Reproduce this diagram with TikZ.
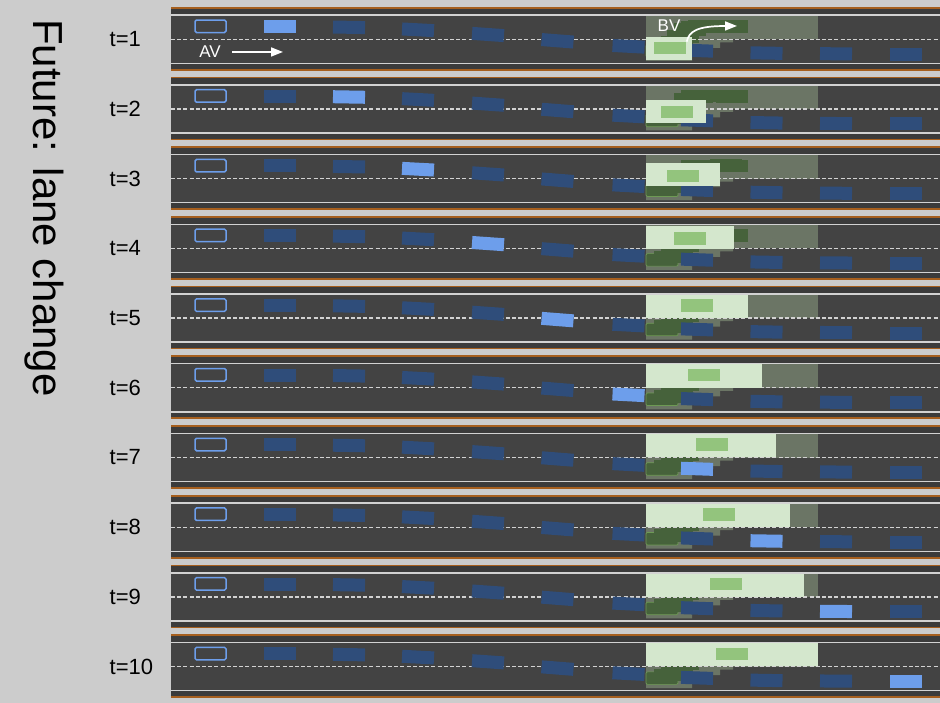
\documentclass[tikz,border=0pt]{standalone}
\usepackage{fontspec}
\setmainfont{Liberation Sans}
\usetikzlibrary{arrows.meta}
\definecolor{bg}{HTML}{CCCCCC}
\definecolor{road}{HTML}{434343}
\definecolor{edgeband}{HTML}{3B3B3B}
\definecolor{curb}{HTML}{A65F1E}
\definecolor{lineW}{HTML}{D2D2D2}
\definecolor{carB}{HTML}{2F4D7A}
\definecolor{carL}{HTML}{6D9EEB}
\definecolor{occ}{HTML}{6B7565}
\definecolor{bvD}{HTML}{46623B}
\definecolor{bvE}{HTML}{6E9A55}
\definecolor{pale}{HTML}{D4E7CD}
\definecolor{bvM}{HTML}{93C47D}
\begin{document}
\begin{tikzpicture}[x=1pt,y=-1pt,
  car/.style={fill=carB, minimum width=32pt, minimum height=13pt, inner sep=0pt, draw=none},
  hicar/.style={car, fill=carL},
  ego/.style={draw=carL, line width=1.5pt, rounded corners=1.5pt, minimum width=31pt, minimum height=12.5pt, inner sep=0pt},
  bvpos/.style={fill=bvD, minimum width=32pt, minimum height=12.5pt, inner sep=0pt},
  bvfirst/.style={bvpos, draw=bvE, line width=0.7pt, rounded corners=1.2pt},
  bvnow/.style={fill=bvM, minimum width=32pt, minimum height=12.5pt, inner sep=0pt},
  midline/.style={draw=lineW, line width=1.3pt, dash pattern=on 4pt off 2.2pt},
  tlabel/.style={anchor=west, inner sep=0pt, font=\fontsize{22}{26}\selectfont},
  wlabel/.style={text=white, inner sep=0pt, font=\fontsize{17}{20}\selectfont},
  warrow/.style={draw=white, line width=1.7pt, -{Triangle[length=12pt,width=9pt]}}
]
\fill[bg] (0,0) rectangle (940,703);
\useasboundingbox (0,0) rectangle (940,703);

\node[rotate=-90, anchor=base, inner sep=0pt, font=\fontsize{42}{50}\selectfont] (title) at (34,208) {Future: lane change};

\def\carlist{1/280/19.3/0, 2/349/20/-1, 3/418/22.5/-3, 4/488/27.2/-4, 5/557.5/33.5/-4.5, 6/628.5/39/-3, 7/697/43.3/-2, 8/766.5/45.8/-1, 9/836/46.5/-0.5, 10/906/47/0}
\def\bvlist{1/669.5/40.5, 2/676.5/35, 3/683/29.2, 4/690/22.3, 5/697/19.6, 6/704/19.2, 7/711.5/19.2, 8/718.5/19.2, 9/726/19, 10/732/19.3}

\foreach \i in {1,...,10} {
  \pgfmathsetmacro\T{7.3+69.7*(\i-1)}
  \pgfmathsetmacro\pr{678+14*\i}
  \pgfmathsetmacro\pt{max(8.7,30-6.8*(\i-1))}
  \pgfmathsetmacro\pb{\pt+23}
  \begin{scope}[shift={(0,\T)}]
    % road strip
    \fill[edgeband] (171,0) rectangle (940,63);
    \fill[road] (171,8.7) rectangle (940,55.3);
    \fill[curb] (171,-0.3) rectangle (940,1.4);
    \fill[curb] (171,61.6) rectangle (940,63.3);
    \fill[lineW] (171,7.2) rectangle (940,8.7);
    \fill[lineW] (171,55.3) rectangle (940,56.8);
    % label
    \node[tlabel] (lab-\i) at (109.5,32) {t=\i};
    % occupancy region of BV
    \fill[occ] (646,8.7) rectangle (818,32);
    \fill[occ] (646,32) -- (733,32) -- (733,35) -- (720,35) -- (720,40.5) -- (692,40.5) -- (692,53.5) -- (646,53.5) -- cycle;
    % BV future positions
    \node[bvfirst] (bv-\i-0) at (662,43.5) {};
    \foreach \k/\cx/\cy in \bvlist {
      \node[bvpos] (bv-\i-\k) at (\cx,\cy) {};
    }
    % lane divider
    \draw[midline] (171,32) -- (940,32);
    % AV trajectory
    \node[ego] (ego-\i) at (210.5,19) {};
    \foreach \k/\cx/\cy/\r in \carlist {
      \ifnum\k=\i\relax
        \node[hicar, rotate=\r] (car-\i-\k) at (\cx,\cy) {};
      \else
        \node[car, rotate=\r] (car-\i-\k) at (\cx,\cy) {};
      \fi
    }
    % BV swept region and current position
    \fill[pale] (646,\pt) rectangle (\pr,\pb);
    \foreach \k/\cx/\cy in \bvlist {
      \ifnum\k=\i\relax
        \node[bvnow] (now-\i) at (\cx,\cy) {};
      \fi
    }
  \end{scope}
}

% annotations in row 1
\begin{scope}[shift={(0,7.3)}]
  \node[wlabel] (avtext) at (210,44) {AV};
  \coordinate (avs) at (232,44.7);
  \coordinate (ave) at (283,44.7);
  \draw[warrow] (avs) -- (ave);
  \node[wlabel] (bvtext) at (669,18.2) {BV};
  \coordinate (bvs) at (686.7,34.4);
  \coordinate (bve) at (737,18.7);
  \draw[warrow] (bvs) .. controls (689,24) and (697,18.7) .. (bve);
\end{scope}
\end{tikzpicture}
\end{document}
